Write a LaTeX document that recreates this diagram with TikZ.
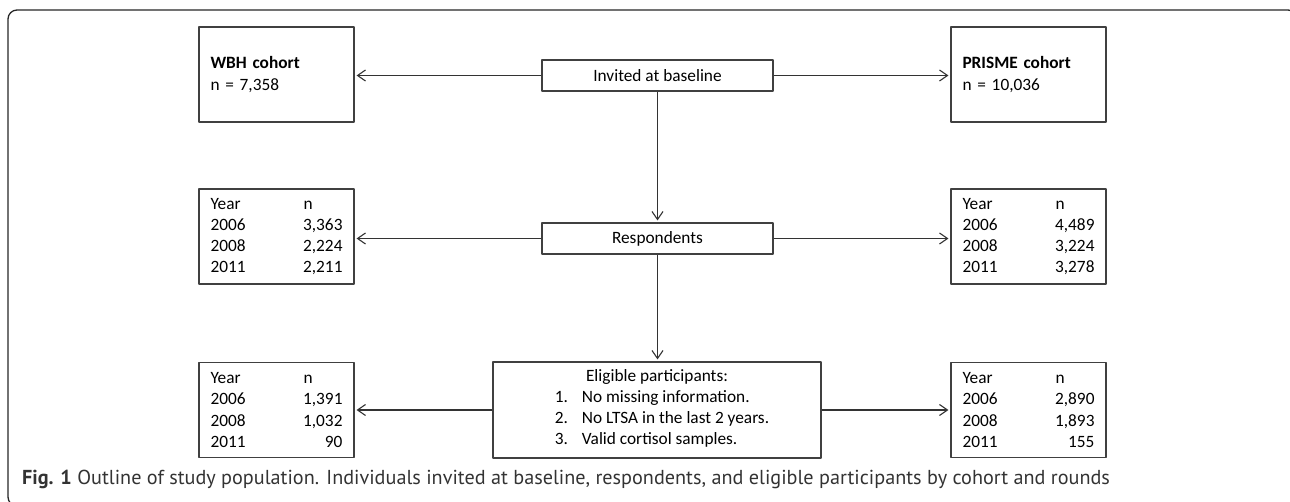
\documentclass[tikz,border=0pt]{standalone}
\usepackage{fontspec}
\setmainfont{Carlito}
\newfontfamily\capfont{PT Sans}
\usetikzlibrary{arrows.meta,positioning}
\newcommand{\yrhead}{\makebox[93pt][l]{Year}\makebox[39pt][l]{n}}
\newcommand{\yrrow}[2]{\makebox[93pt][l]{#1}\makebox[39pt][r]{#2}}
\begin{document}
\begin{tikzpicture}[x=1pt, y=-1pt, line join=round, >={Straight Barb[length=8pt,width=11pt]},
		font=\fontsize{17.3}{21.2}\selectfont,
		box/.style={draw=black!75, line width=1.1pt, inner sep=0pt},
		sidebox/.style={box, minimum width=155pt, minimum height=95pt, text width=132pt, align=left},
		midbox/.style={box, minimum height=31pt, align=center},
		link/.style={->, draw=black!80, line width=1.1pt, shorten >=2pt}]
	\useasboundingbox (0,0) rectangle (1290,502);
	\draw[black!85, line width=1.3pt, rounded corners=9pt] (8,10) rectangle (1297,506);%khung
	\node[midbox, minimum width=231pt] (inv) at (657.5,75.5) {Invited at baseline};
	\node[midbox, minimum width=231pt] (resp) at (657.5,238.5) {Respondents};
	\node[box, minimum width=328pt, minimum height=96pt, align=center] (elig) at (657,410) {Eligible participants:\\\hspace{10pt}\begin{tabular}[t]{@{}l@{}}
			\makebox[27pt][l]{1.}No missing information.\\
			\makebox[27pt][l]{2.}No LTSA in the last 2 years.\\
			\makebox[27pt][l]{3.}Valid cortisol samples.
		\end{tabular}};
	\node[sidebox] (wbh) at (276.5,74.5) {\textbf{WBH cohort}\\n = 7,358};%trai
	\node[sidebox] (wbhresp) at (276.5,236.5) {\yrhead\\\yrrow{2006}{3,363}\\\yrrow{2008}{2,224}\\\yrrow{2011}{2,211}};
	\node[sidebox] (wbhelig) at (276.5,410) {\yrhead\\\yrrow{2006}{1,391}\\\yrrow{2008}{1,032}\\\yrrow{2011}{90}};
	\node[sidebox] (pri) at (1028.5,74.5) {\textbf{PRISME cohort}\\n = 10,036};%phai
	\node[sidebox] (priresp) at (1028.5,236.5) {\yrhead\\\yrrow{2006}{4,489}\\\yrrow{2008}{3,224}\\\yrrow{2011}{3,278}};
	\node[sidebox] (prielig) at (1028.5,410) {\yrhead\\\yrrow{2006}{2,890}\\\yrrow{2008}{1,893}\\\yrrow{2011}{155}};
	\draw[link] (inv.west) -- (inv.west -| wbh.east);
	\draw[link] (inv.east) -- (inv.east -| pri.west);
	\draw[link] (inv.south) -- (resp.north);
	\draw[link] (resp.west) -- (resp.west -| wbhresp.east);
	\draw[link] (resp.east) -- (resp.east -| priresp.west);
	\draw[link] (resp.south) -- (resp.south |- elig.north);
	\draw[link] (elig.west) -- (wbhelig.east);
	\draw[link] (elig.east) -- (prielig.west);
	\node[anchor=base west, inner sep=0pt, text=black!80, font=\capfont\fontsize{20.2}{24}\selectfont] (cap) at (22,484) {\textbf{Fig. 1} Outline of study population. Individuals invited at baseline, respondents, and eligible participants by cohort and rounds};
\end{tikzpicture}
\end{document}
